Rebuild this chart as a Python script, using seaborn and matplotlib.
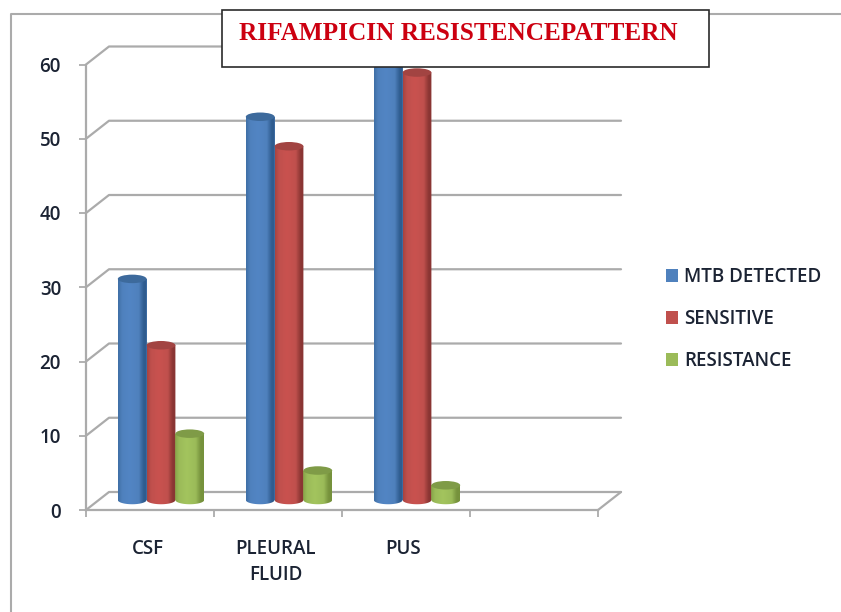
import numpy as np
import pandas as pd
import seaborn as sns
import matplotlib.pyplot as plt
from matplotlib.colors import LinearSegmentedColormap
from matplotlib.patches import Ellipse, PathPatch, Rectangle
from matplotlib.path import Path

categories = ['CSF', 'PLEURAL\nFLUID', 'PUS']
series_names = ['MTB DETECTED', 'SENSITIVE', 'RESISTANCE']
mtb_detected = [30, 52, 60]
sensitive = [21, 48, 58]
resistance = [9, 4, 2]
y_ticks = [0, 10, 20, 30, 40, 50, 60]

W, H = 841, 612
GRID = '#ababab'
TEXT = '#1b2333'

# side colours: left edge, middle, right edge, then cap colour
shades = {
    'MTB DETECTED': ('#3f6fa6', '#5285c4', '#4f81bd', '#2f5c8f', '#3d6a9c'),
    'SENSITIVE': ('#a84340', '#c9524f', '#c0504d', '#8a3533', '#a24442'),
    'RESISTANCE': ('#86a548', '#a3c45e', '#9bbb59', '#76923c', '#7f9b47'),
}


def px_axes(fig, left, right, top, bottom, **kw):
    # axes rectangle given in picture pixels (y counted from the top)
    return fig.add_axes([left / W, 1 - bottom / H, (right - left) / W, (bottom - top) / H], **kw)


df = pd.DataFrame({
    'site': categories * 3,
    'series': np.repeat(series_names, 3),
    'value': mtb_detected + sensitive + resistance,
})

sns.set_theme(style='white')
plt.rcParams['font.family'] = ['Open Sans', 'DejaVu Sans']
fig = plt.figure(figsize=(W / 100, H / 100), dpi=100, facecolor='white')

# page frame, top and left only
page = px_axes(fig, 0, W, 0, H)
page.set_xlim(0, W)
page.set_ylim(H, 0)
page.axis('off')
page.plot([11, 11, W], [H, 14, 14], color=GRID, lw=1.5)

# front plane: ticks, labels and the walls
ax = px_axes(fig, 86, 598, 64.5, 510, facecolor='none')
ax.set_xlim(-0.5, 3.5)
ax.set_ylim(0, 60)
dx = 23 / 128
dy = 18 / (445.5 / 60)
for v in y_ticks:
    ax.plot([-0.5, -0.5 + dx, 3.5 + dx], [v, v + dy, v + dy], color=GRID, lw=1.6, clip_on=False)
ax.plot([3.5, 3.5 + dx], [0, dy], color=GRID, lw=1.6, clip_on=False)
for s in ['top', 'right']:
    ax.spines[s].set_visible(False)
for s in ['left', 'bottom']:
    ax.spines[s].set_color(GRID)
    ax.spines[s].set_linewidth(1.6)
ax.set_xticks(np.arange(-0.5, 4, 1))
ax.set_xticklabels([])
ax.set_yticks(y_ticks)
ax.tick_params(axis='both', color=GRID, width=1.3, length=5, left=True, bottom=True)
ax.tick_params(axis='y', labelsize=13.5, labelcolor=TEXT, pad=13)
for lab in ax.get_yticklabels():
    lab.set_fontweight('semibold')
for i, name in enumerate(categories):
    ax.annotate(name, (i, 0), xytext=(-2.5, -29), textcoords='offset pixels', ha='center', va='top',
                fontsize=13.5, fontweight='semibold', color=TEXT, linespacing=1.38,
                annotation_clip=False)

# bars sit half way into the depth of the floor
y0_px, y60_px = 500, 57.8
unit = (y0_px - y60_px) / 60
bars = px_axes(fig, 97, 609, y60_px - 4 * unit, y0_px + 2 * unit, facecolor='none')
bars.set_zorder(2)
palette = {k: v[2] for k, v in shades.items()}
sns.barplot(data=df, x='site', y='value', hue='series', hue_order=series_names, order=categories,
            palette=palette, width=0.675, gap=0, saturation=1, ax=bars, linewidth=0, errorbar=None)
bars.set_xlim(-0.5, 3.5)
bars.set_ylim(-2, 64)
bars.axis('off')

cap_h = 8.5 / unit
for name, container in zip(series_names, bars.containers):
    left_c, light_c, main_c, right_c, cap_c = shades[name]
    cmap = LinearSegmentedColormap.from_list(name, [
        (0, left_c), (0.14, main_c), (0.4, light_c), (0.72, main_c), (0.9, right_c), (1, right_c)])
    for patch in container:
        x0, w, top = patch.get_x(), patch.get_width(), patch.get_height()
        t = np.linspace(np.pi, 2 * np.pi, 40)
        xs = x0 + w / 2 + w / 2 * np.cos(t)
        ys = cap_h / 2 * np.sin(t)
        outline = Path(np.vstack([[x0, top], np.column_stack([xs, ys]), [x0 + w, top], [x0, top]]))
        clip = PathPatch(outline, transform=bars.transData, fc='none', ec='none')
        bars.add_patch(clip)
        im = bars.imshow(np.linspace(0, 1, 64)[None, :], cmap=cmap, aspect='auto', zorder=3,
                         extent=(x0, x0 + w, -cap_h, top), interpolation='bilinear')
        im.set_clip_path(clip)
        bars.add_patch(Ellipse((x0 + w / 2, top), w, cap_h, fc=cap_c, ec='none', zorder=4))
bars.set_xlim(-0.5, 3.5)
bars.set_ylim(-2, 64)
bars.set_aspect('auto')

handles, labels = bars.get_legend_handles_labels()
bars.legend(handles, labels, loc='upper left', bbox_to_anchor=(666 / W, 1 - 267 / H),
            bbox_transform=fig.transFigure, frameon=False, handlelength=0.66, handleheight=0.66,
            handletextpad=0.3, labelspacing=1.17, borderpad=0, borderaxespad=0,
            prop={'size': 13.5, 'weight': 'semibold', 'family': ['Open Sans']}, labelcolor=TEXT)

# title box on top of everything
top = px_axes(fig, 0, W, 0, H, facecolor='none')
top.set_zorder(5)
top.set_xlim(0, W)
top.set_ylim(H, 0)
top.axis('off')
top.add_patch(Rectangle((222.5, 10), 487, 57, fc='white', ec='#2b2b2b', lw=1.2))
top.text(458.5, 33, 'RIFAMPICIN RESISTENCEPATTERN', color='#cc0010', fontsize=18.2, fontweight='bold',
         family=['Liberation Serif'], ha='center', va='center')

plt.savefig('out.png', dpi=100)
plt.close()
